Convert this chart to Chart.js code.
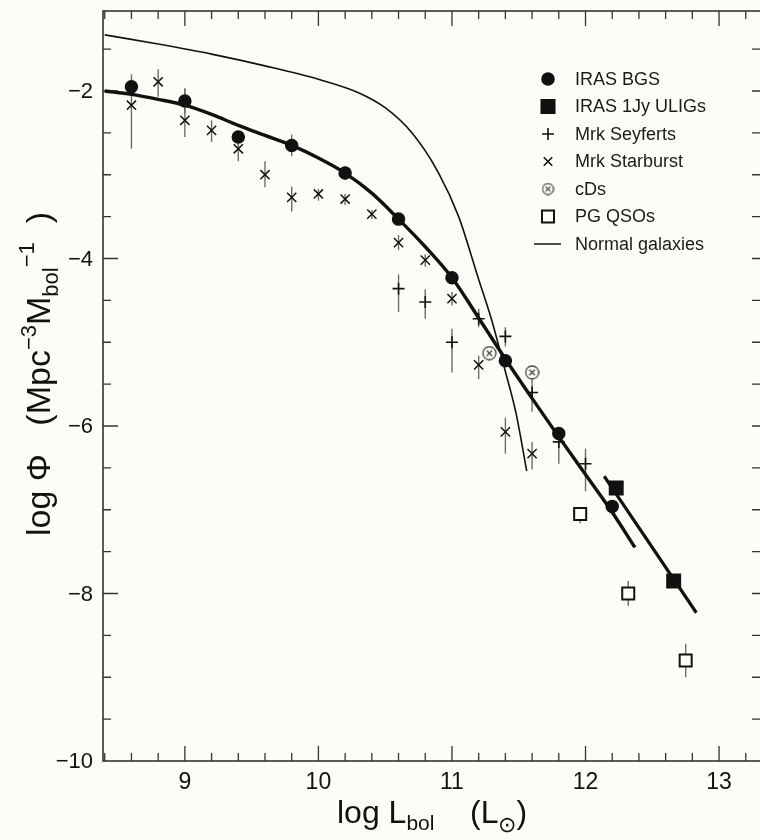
<!DOCTYPE html>
<html>
<head>
<meta charset="utf-8">
<script src="https://cdn.jsdelivr.net/npm/chart.js@4.4.1/dist/chart.umd.min.js"></script>
<style>
  html, body { margin: 0; padding: 0; background: #fdfdf8; }
  #wrap { width: 760px; height: 840px; overflow: hidden; }
</style>
</head>
<body>
<div id="wrap"><canvas id="lfChart" width="776" height="840"></canvas></div>
<script>
// Bolometric luminosity function: log L_bol vs log Phi

const xTicks = [9, 10, 11, 12, 13];
const yTicks = [-10, -8, -6, -4, -2];

// IRAS BGS
const bgsX  = [8.6, 9.0, 9.4, 9.8, 10.2, 10.6, 11.0, 11.4, 11.8, 12.2];
const bgsY  = [-1.95, -2.12, -2.55, -2.65, -2.98, -3.53, -4.23, -5.22, -6.09, -6.96];
const bgsLo = [null, -2.27, -2.64, -2.78, -3.06, null, null, null, null, null];
const bgsHi = [null, -1.97, -2.47, -2.52, -2.90, null, null, null, null, null];

// IRAS 1Jy ULIGs
const uligX = [12.23, 12.66];
const uligY = [-6.74, -7.85];

// Mrk Seyferts
const seyX  = [10.6, 10.8, 11.0, 11.2, 11.4, 11.6, 11.8, 12.0];
const seyY  = [-4.36, -4.52, -5.00, -4.72, -4.93, -5.60, -6.19, -6.45];
const seyLo = [-4.64, -4.72, -5.36, -4.82, -5.05, -5.83, -6.45, -6.78];
const seyHi = [-4.19, -4.37, -4.84, -4.60, -4.82, -5.44, -6.05, -6.27];

// Mrk Starburst
const sbX  = [8.6, 8.8, 9.0, 9.2, 9.4, 9.6, 9.8, 10.0, 10.2, 10.4, 10.6, 10.8, 11.0, 11.2, 11.4, 11.6];
const sbY  = [-2.17, -1.89, -2.35, -2.47, -2.69, -3.00, -3.27, -3.23, -3.29, -3.47, -3.81, -4.02, -4.48, -5.27, -6.07, -6.33];
const sbLo = [-2.69, -2.07, -2.55, -2.61, -2.84, -3.15, -3.44, -3.31, -3.36, -3.53, -3.90, -4.10, -4.56, -5.44, -6.33, -6.52];
const sbHi = [-1.80, -1.74, -1.97, -2.35, -2.63, -2.84, -3.14, -3.17, -3.23, -3.42, -3.72, -3.95, -4.40, -5.16, -5.90, -6.19];

// cDs
const cdX = [11.28, 11.60];
const cdY = [-5.13, -5.36];

// PG QSOs
const qsoX  = [11.96, 12.32, 12.75];
const qsoY  = [-7.05, -8.00, -8.80];
const qsoLo = [-7.16, -8.15, -9.00];
const qsoHi = [-6.97, -7.85, -8.60];

// fit to the BGS points
const fitX = [8.4, 8.6, 8.8, 9.0, 9.2, 9.4, 9.6, 9.8, 10.0, 10.2, 10.4, 10.6, 10.8, 11.0, 11.2, 11.4, 11.6, 11.8, 12.0, 12.2, 12.37];
const fitY = [-2.00, -2.04, -2.10, -2.17, -2.28, -2.41, -2.53, -2.65, -2.80, -2.98, -3.22, -3.53, -3.86, -4.23, -4.71, -5.20, -5.67, -6.13, -6.58, -7.03, -7.45];

// fit through the ULIGs
const uligFitX = [12.14, 12.83];
const uligFitY = [-6.60, -8.23];

// normal galaxies
const normX = [8.4, 8.8, 9.2, 9.6, 10.0, 10.3, 10.5, 10.7, 10.9, 11.05, 11.2, 11.3, 11.4, 11.48, 11.56];
const normY = [-1.33, -1.44, -1.56, -1.70, -1.86, -2.02, -2.20, -2.50, -2.98, -3.50, -4.25, -4.75, -5.35, -5.85, -6.54];

const FONT = "'Liberation Sans', Arial, Helvetica, sans-serif";
const INK = '#111';

const pts = (xs, ys) => xs.map((x, i) => ({ x: x, y: ys[i] }));

// circle with a diagonal cross, used for the cDs
function circledCross(size, color) {
  const c = document.createElement('canvas');
  c.width = c.height = size;
  const g = c.getContext('2d');
  const m = size / 2, r = size / 2 - 1;
  g.strokeStyle = color;
  g.lineWidth = 1.3;
  g.beginPath();
  g.arc(m, m, r, 0, Math.PI * 2);
  g.stroke();
  const d = r * 0.42;
  g.beginPath();
  g.moveTo(m - d, m - d); g.lineTo(m + d, m + d);
  g.moveTo(m + d, m - d); g.lineTo(m - d, m + d);
  g.stroke();
  return c;
}
const cdMarker = circledCross(15, '#444');
const cdLegendMarker = circledCross(13, '#555');

const pointSet = (label, xs, ys, style, extra) => Object.assign({
  label: label,
  data: pts(xs, ys),
  showLine: false,
  pointStyle: style,
  backgroundColor: INK,
  borderColor: INK,
  pointBorderWidth: 1.5
}, extra);

const lineSet = (label, xs, ys, width) => ({
  label: label,
  data: pts(xs, ys),
  showLine: true,
  borderColor: INK,
  borderWidth: width,
  pointRadius: 0,
  cubicInterpolationMode: 'monotone',
  fill: false
});

// vertical error bars from errLo / errHi on each dataset
const errorBars = {
  id: 'errorBars',
  beforeDatasetsDraw(chart) {
    const { ctx, scales: { x, y } } = chart;
    ctx.save();
    ctx.strokeStyle = '#6b6b6b';
    ctx.lineWidth = 1.4;
    chart.data.datasets.forEach(ds => {
      if (!ds.errLo) return;
      ds.data.forEach((p, j) => {
        if (ds.errLo[j] == null) return;
        const px = x.getPixelForValue(p.x);
        ctx.beginPath();
        ctx.moveTo(px, y.getPixelForValue(ds.errLo[j]));
        ctx.lineTo(px, y.getPixelForValue(ds.errHi[j]));
        ctx.stroke();
      });
    });
    ctx.restore();
  }
};

// box around the plot with inward ticks and the tick labels;
// the right side of the box sits just past the visible edge
const frame = {
  id: 'frame',
  beforeDatasetsDraw(chart) {
    const { ctx, chartArea: a, scales: { x, y } } = chart;
    ctx.save();
    ctx.strokeStyle = '#333';
    ctx.lineWidth = 1.6;
    ctx.strokeRect(a.left, a.top, a.right - a.left, a.bottom - a.top);
    ctx.lineWidth = 1.3;
    ctx.beginPath();
    for (let k = 42; k <= 67; k++) {
      const px = x.getPixelForValue(k / 5);
      if (px <= a.left || px >= a.right) continue;
      const len = k % 5 === 0 ? 15 : 8;
      ctx.moveTo(px, a.bottom); ctx.lineTo(px, a.bottom - len);
      ctx.moveTo(px, a.top); ctx.lineTo(px, a.top + len);
    }
    for (let k = -20; k <= -2; k++) {
      const py = y.getPixelForValue(k / 2);
      if (py <= a.top || py >= a.bottom) continue;
      const len = k % 4 === 0 ? 15 : 8;
      ctx.moveTo(a.left, py); ctx.lineTo(a.left + len, py);
      ctx.moveTo(a.right, py); ctx.lineTo(a.right - 13, py);
    }
    ctx.stroke();

    ctx.fillStyle = INK;
    ctx.font = '23px ' + FONT;
    ctx.textAlign = 'center';
    ctx.textBaseline = 'middle';
    xTicks.forEach(v => ctx.fillText(String(v), x.getPixelForValue(v), a.bottom + 22));
    ctx.font = '22px ' + FONT;
    ctx.textAlign = 'right';
    yTicks.forEach(v => ctx.fillText('\u2212' + Math.abs(v), a.left - 10, y.getPixelForValue(v) + 1));
    ctx.restore();
  }
};

// draws a run of [text, size, shift] pieces left to right
function drawRun(ctx, parts, x, y) {
  parts.forEach(([t, size, dy]) => {
    ctx.font = size + 'px ' + FONT;
    ctx.fillText(t, x, y + dy);
    x += ctx.measureText(t).width;
  });
}
function runWidth(ctx, parts) {
  return parts.reduce((w, [t, size]) => {
    ctx.font = size + 'px ' + FONT;
    return w + ctx.measureText(t).width;
  }, 0);
}

const axisTitles = {
  id: 'axisTitles',
  afterDraw(chart) {
    const { ctx } = chart;
    ctx.save();
    ctx.fillStyle = INK;
    ctx.textBaseline = 'alphabetic';
    ctx.textAlign = 'left';
    const xParts = [['log L', 32, 0], ['bol', 21, 7], ['    (L', 32, 0], ['\u2299', 22, 9], [')', 32, 0]];
    drawRun(ctx, xParts, 337, 823);

    const yParts = [['log \u03A6   (Mpc', 34, 0], ['\u22123', 22, -14], ['M', 34, 0], ['bol', 22, 8], ['\u22121', 22, -16], ['  )', 34, 0]];
    const yw = runWidth(ctx, yParts);
    ctx.translate(50, 374);
    ctx.rotate(-Math.PI / 2);
    drawRun(ctx, yParts, -yw / 2, 0);
    ctx.restore();
  }
};

const legendRows = [
  { label: 'IRAS BGS', style: 'circle', radius: 6 },
  { label: 'IRAS 1Jy ULIGs', style: 'rect', radius: 9.5 },
  { label: 'Mrk Seyferts', style: 'cross', radius: 6 },
  { label: 'Mrk Starburst', style: 'crossRot', radius: 6 },
  { label: 'cDs', style: cdLegendMarker, radius: 6 },
  { label: 'PG QSOs', style: 'rect', radius: 8.5, hollow: true },
  { label: 'Normal galaxies', line: true }
];

const legendBox = {
  id: 'legendBox',
  afterDraw(chart) {
    const ctx = chart.ctx;
    const mx = 548, tx = 575, y0 = 79, step = 27.5;
    ctx.save();
    ctx.font = '18px ' + FONT;
    ctx.textBaseline = 'middle';
    ctx.textAlign = 'left';
    legendRows.forEach((r, i) => {
      const y = y0 + i * step;
      ctx.fillStyle = INK;
      ctx.strokeStyle = INK;
      if (r.line) {
        ctx.lineWidth = 1.5;
        ctx.beginPath();
        ctx.moveTo(mx - 14, y); ctx.lineTo(mx + 13, y);
        ctx.stroke();
      } else {
        ctx.lineWidth = r.hollow ? 2 : 1.6;
        if (r.hollow) ctx.fillStyle = '#fdfdf8';
        Chart.helpers.drawPoint(ctx, { pointStyle: r.style, radius: r.radius, rotation: 0, borderWidth: ctx.lineWidth }, mx, y);
      }
      ctx.fillStyle = '#1a1a1a';
      ctx.fillText(r.label, tx, y + 1);
    });
    ctx.restore();
  }
};

new Chart(document.getElementById('lfChart').getContext('2d'), {
  type: 'scatter',
  data: {
    datasets: [
      pointSet('IRAS BGS', bgsX, bgsY, 'circle', { pointRadius: 6, errLo: bgsLo, errHi: bgsHi }),
      pointSet('IRAS 1Jy ULIGs', uligX, uligY, 'rect', { pointRadius: 9.5 }),
      pointSet('Mrk Seyferts', seyX, seyY, 'cross', { pointRadius: 6, pointBorderWidth: 1.6, errLo: seyLo, errHi: seyHi }),
      pointSet('Mrk Starburst', sbX, sbY, 'crossRot', { pointRadius: 6.5, pointBorderWidth: 1.5, errLo: sbLo, errHi: sbHi }),
      pointSet('cDs', cdX, cdY, cdMarker, { pointRadius: 7 }),
      pointSet('PG QSOs', qsoX, qsoY, 'rect', { pointRadius: 8.5, backgroundColor: '#fdfdf8', pointBorderWidth: 2, errLo: qsoLo, errHi: qsoHi }),
      lineSet('BGS fit', fitX, fitY, 3.4),
      lineSet('ULIG fit', uligFitX, uligFitY, 3.2),
      lineSet('Normal galaxies', normX, normY, 1.6)
    ]
  },
  options: {
    responsive: false,
    animation: false,
    devicePixelRatio: 1,
    layout: { padding: { top: 7, right: 10, left: 0, bottom: 0 } },
    plugins: { legend: { display: false }, tooltip: { enabled: false } },
    scales: {
      x: {
        type: 'linear',
        min: 8.387,
        max: 13.344,
        grid: { display: false, drawTicks: false },
        border: { display: false },
        ticks: { display: false },
        afterFit: s => { s.height = 79; }
      },
      y: {
        type: 'linear',
        min: -10,
        max: -1.045,
        grid: { display: false, drawTicks: false },
        border: { display: false },
        ticks: { display: false },
        afterFit: s => { s.width = 103; }
      }
    }
  },
  plugins: [frame, errorBars, axisTitles, legendBox]
});
</script>
</body>
</html>
